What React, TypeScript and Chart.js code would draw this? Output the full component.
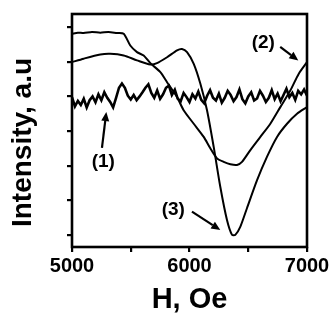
import React, { useEffect, useRef } from 'react';
import { Chart, registerables } from 'chart.js';

Chart.register(...registerables);

// Field values (Oe) and intensities (a.u.)
const curve1X: number[] = Array.from({ length: 81 }, (_, i) => 5000 + i * 25);
const curve1Y: number[] = [
  3.98, 3.71, 3.87, 3.75, 3.93, 3.68, 3.89, 4.00, 3.83, 4.06,
  3.89, 4.12, 3.96, 3.84, 3.68, 3.96, 4.25, 4.37, 4.25, 4.02,
  3.91, 4.04, 3.89, 4.00, 4.12, 4.25, 4.35, 4.10, 3.96, 4.17,
  3.93, 4.06, 4.25, 4.31, 4.04, 4.19, 3.93,
  3.86, 4.10, 3.98, 3.84, 4.06, 3.94, 4.14, 3.90, 3.80, 4.02,
  4.18, 3.96, 3.88, 4.08, 3.82, 3.96, 4.16, 4.04, 3.86, 3.98,
  4.20, 3.92, 3.80, 4.00, 4.12, 3.88, 3.94, 4.16, 4.02, 3.84,
  3.96, 4.18, 3.92, 4.08, 3.86, 4.04, 4.22, 3.98, 4.10, 3.90,
  4.16, 4.06, 4.20, 4.02,
];

const curve2X: number[] = [5000, 5050, 5099, 5170, 5241, 5310, 5383, 5440, 5496, 5553, 5610, 5667, 5752, 5809, 5894, 5950, 6036, 6121, 6177, 6234, 6291, 6348, 6404, 6447, 6518, 6603, 6688, 6773, 6858, 6929, 7000];
const curve2Y: number[] = [5.81, 5.84, 5.83, 5.86, 5.84, 5.86, 5.83, 5.81, 5.47, 5.28, 5.18, 4.96, 4.70, 4.41, 3.98, 3.60, 3.21, 2.83, 2.50, 2.21, 2.11, 2.04, 2.02, 2.11, 2.45, 2.83, 3.21, 3.69, 4.17, 4.65, 4.99];

const curve3X: number[] = [5000, 5099, 5241, 5326, 5440, 5553, 5667, 5723, 5809, 5894, 5936, 5979, 6036, 6092, 6149, 6206, 6262, 6319, 6362, 6390, 6433, 6489, 6575, 6660, 6745, 6830, 6915, 7000];
const curve3Y: number[] = [4.99, 5.09, 5.21, 5.23, 5.18, 5.04, 4.92, 4.96, 5.13, 5.33, 5.37, 5.28, 4.94, 4.37, 3.60, 2.54, 1.39, 0.43, 0.0, 0.0, 0.24, 0.77, 1.58, 2.26, 2.83, 3.21, 3.50, 3.69];

const xTickValues: number[] = [5000, 6000, 7000];
const xTitle = 'H, Oe';
const yTitle = 'Intensity, a.u';

// Annotations: label text, label position, arrow start, arrow end (data units)
const annLabels: string[] = ['(1)', '(2)', '(3)'];
const annLabelX: number[] = [5266, 6628, 5862];
const annLabelY: number[] = [2.1, 5.56, 0.72];
const annFromX: number[] = [5255, 6772, 6021];
const annFromY: number[] = [2.51, 5.43, 0.67];
const annToX: number[] = [5292, 6926, 6262];
const annToY: number[] = [3.55, 5.04, 0.14];

const FONT = '"Liberation Sans", Arial, sans-serif';

const toPts = (xs: number[], ys: number[]) => xs.map((x, i) => ({ x, y: ys[i] }));

const framePlugin = {
  id: 'frameAndNotes',
  afterDatasetsDraw(chart: any) {
    const { ctx, chartArea, scales } = chart;
    const xs = scales.x;
    const ys = scales.y;
    ctx.save();
    ctx.strokeStyle = '#000';
    ctx.lineWidth = 2.6;
    ctx.strokeRect(chartArea.left, chartArea.top, chartArea.right - chartArea.left, chartArea.bottom - chartArea.top);
    ctx.fillStyle = '#000';
    ctx.font = `bold 19px ${FONT}`;
    ctx.textAlign = 'center';
    ctx.textBaseline = 'middle';
    for (let i = 0; i < annLabels.length; i++) {
      ctx.fillText(annLabels[i], xs.getPixelForValue(annLabelX[i]), ys.getPixelForValue(annLabelY[i]));
      const x0 = xs.getPixelForValue(annFromX[i]);
      const y0 = ys.getPixelForValue(annFromY[i]);
      const x1 = xs.getPixelForValue(annToX[i]);
      const y1 = ys.getPixelForValue(annToY[i]);
      const ang = Math.atan2(y1 - y0, x1 - x0);
      const head = 9;
      const hx = x1 - head * Math.cos(ang);
      const hy = y1 - head * Math.sin(ang);
      ctx.lineWidth = 2.2;
      ctx.beginPath();
      ctx.moveTo(x0, y0);
      ctx.lineTo(hx, hy);
      ctx.stroke();
      ctx.beginPath();
      ctx.moveTo(x1, y1);
      ctx.lineTo(hx + 4 * Math.sin(ang), hy - 4 * Math.cos(ang));
      ctx.lineTo(hx - 4 * Math.sin(ang), hy + 4 * Math.cos(ang));
      ctx.closePath();
      ctx.fill();
    }
    // y axis title
    ctx.save();
    ctx.translate(23, (chartArea.top + chartArea.bottom) / 2 + 12);
    ctx.rotate(-Math.PI / 2);
    ctx.font = `bold 28px ${FONT}`;
    ctx.fillText(yTitle, 0, 0);
    ctx.restore();
    ctx.restore();
  },
};

export default function App() {
  const ref = useRef<HTMLCanvasElement | null>(null);
  useEffect(() => {
    if (!ref.current) return;
    const chart = new Chart(ref.current, {
      type: 'line',
      data: {
        datasets: [
          { data: toPts(curve1X, curve1Y), borderColor: '#000', borderWidth: 2.6, pointRadius: 0, tension: 0, fill: false },
          { data: toPts(curve2X, curve2Y), borderColor: '#000', borderWidth: 2, pointRadius: 0, tension: 0.25, fill: false },
          { data: toPts(curve3X, curve3Y), borderColor: '#000', borderWidth: 2, pointRadius: 0, tension: 0.25, fill: false },
        ],
      },
      options: {
        animation: false,
        responsive: false,
        maintainAspectRatio: false,
        layout: { padding: { top: 14, right: 25, left: 0, bottom: 0 } },
        plugins: { legend: { display: false }, tooltip: { enabled: false } },
        scales: {
          x: {
            type: 'linear',
            min: 5000,
            max: 7000,
            afterFit: (s: any) => { s.height = 73; },
            ticks: {
              stepSize: 500,
              includeBounds: false,
              autoSkip: false,
              maxRotation: 0,
              padding: 2,
              color: '#000',
              font: { size: 20, weight: 'bold', family: FONT },
              callback: (v: any) => (xTickValues.includes(Number(v)) ? String(v) : ''),
            },
            grid: { drawOnChartArea: false, drawTicks: true, tickLength: 5, lineWidth: 2.2, color: '#000' },
            border: { display: false },
            title: { display: true, text: xTitle, color: '#000', font: { size: 29, weight: 'bold', family: FONT }, padding: { top: 0, bottom: 3 } },
          },
          y: {
            type: 'linear',
            min: -0.35,
            max: 6.38,
            afterFit: (s: any) => { s.width = 72; },
            ticks: { stepSize: 1, includeBounds: false, callback: () => '', padding: 0 },
            grid: { drawOnChartArea: false, drawTicks: true, tickLength: 5, lineWidth: 2.2, color: '#000' },
            border: { display: false },
            title: { display: false },
          },
        },
      },
      plugins: [framePlugin],
    });
    return () => chart.destroy();
  }, []);
  return (
    <div style={{ position: 'absolute', left: 0, top: 0, width: 332, height: 320, background: '#fff' }}>
      <canvas ref={ref} width={332} height={320} style={{ width: 332, height: 320 }} />
    </div>
  );
}
